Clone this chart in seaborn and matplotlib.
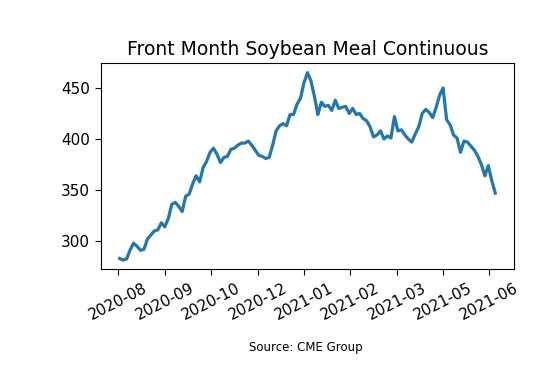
import matplotlib
matplotlib.use('Agg')
import matplotlib.pyplot as plt
import matplotlib.dates as mdates
from matplotlib.ticker import FixedLocator
import seaborn as sns
import pandas as pd

# front month soybean meal, settle price ($/short ton), every 3 days
prices = [283, 281.5, 282.5, 291, 298, 295, 291, 292, 302, 306,
          310, 311, 318, 314, 322, 336, 338, 334, 329, 344,
          346, 356, 364, 358, 372, 378, 387, 391, 385, 377,
          382, 383, 390, 391, 394, 396, 396, 398, 394, 389,
          384, 383, 381, 382, 394, 408, 413, 415, 413, 424,
          424, 434, 440, 455, 465, 457, 442, 424, 436, 432,
          433, 428, 438, 430, 431, 432, 425, 430, 424, 425,
          420, 418, 412, 402, 404, 408, 400, 403, 401, 422,
          408, 409, 404, 400, 397, 405, 412, 425, 429, 426,
          421, 431, 443, 450, 419, 414, 404, 401, 387, 398,
          397, 393, 389, 383, 375, 364, 374, 359, 347]
dates = pd.date_range('2020-08-04', periods=len(prices), freq='3D')

tick_dates = pd.date_range('2020-08-03', periods=9, freq='40D')

title = 'Front Month Soybean Meal Continuous'
source = 'Source: CME Group'

df = pd.DataFrame({'date': dates, 'price': prices})

fig, ax = plt.subplots(figsize=(5.6, 3.68), dpi=100)
fig.subplots_adjust(left=0.18, right=0.918, bottom=0.268, top=0.828)

sns.lineplot(data=df, x='date', y='price', ax=ax, linewidth=2.3, color='#1f77b4')

ax.xaxis.set_major_locator(FixedLocator(mdates.date2num(tick_dates)))
ax.xaxis.set_major_formatter(mdates.DateFormatter('%Y-%m'))
ax.tick_params(labelsize=11, length=4.5)
plt.setp(ax.get_xticklabels(), rotation=27)
ax.set_xlabel('')
ax.set_ylabel('')
ax.set_title(title, fontsize=13.5)

fig.text(0.546, 0.055, source, ha='center', va='center', fontsize=8.5)

fig.savefig('out.png', dpi=100)
